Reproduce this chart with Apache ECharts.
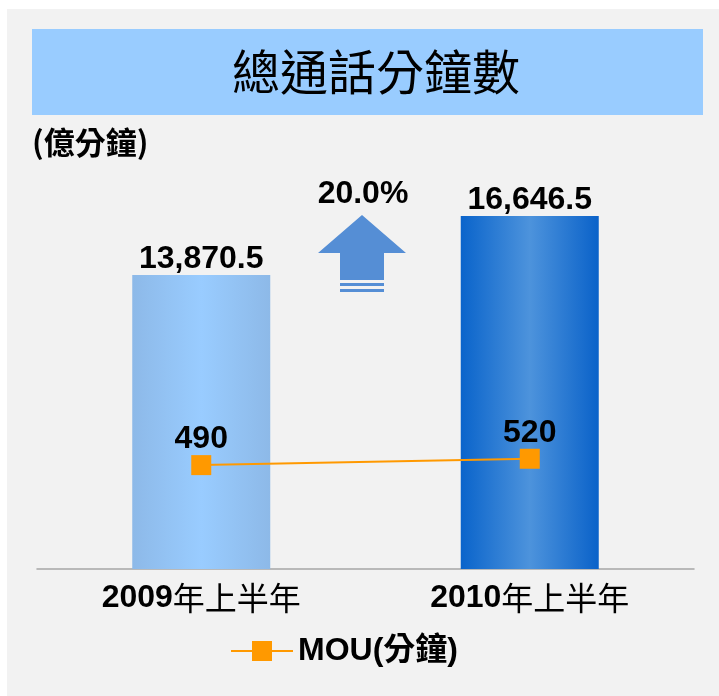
<!DOCTYPE html>
<html>
<head>
<meta charset="utf-8">
<script src="https://cdn.jsdelivr.net/npm/echarts@6/dist/echarts.min.js"></script>
<style>
  html, body { margin: 0; padding: 0; background: #ffffff; }
  #chart { width: 719px; height: 696px; }
</style>
</head>
<body>
<div id="chart"></div>
<script>
const categories = ['2009年上半年', '2010年上半年'];
const minutes = [13870.5, 16646.5];
const mou = [490, 520];
const growthLabel = '20.0%';

const chart = echarts.init(document.getElementById('chart'));

const latin = 'Liberation Sans, Arial, "Noto Sans CJK TC", sans-serif';

chart.setOption({
  backgroundColor: '#ffffff',
  animation: false,
  graphic: [
    // gray panel + title band
    { type: 'rect', z: -10, shape: { x: 7, y: 9, width: 712, height: 687 }, style: { fill: '#f2f2f2' } },
    { type: 'rect', z: -9, shape: { x: 32, y: 29, width: 671, height: 86 }, style: { fill: '#99ccff' } },
    {
      type: 'text', z: 5, x: 376, y: 72,
      style: { text: '總通話分鐘數', fill: '#000', font: '48px "Noto Sans CJK TC", serif', align: 'center', verticalAlign: 'middle' }
    },
    {
      type: 'text', z: 5, x: 32, y: 142,
      style: { text: '(億分鐘)', fill: '#000', font: 'bold 31px "Noto Sans CJK TC", sans-serif', verticalAlign: 'middle' }
    },
    // growth arrow
    {
      type: 'polygon', z: 5,
      shape: { points: [[362, 215], [406, 253], [384, 253], [384, 280], [340, 280], [340, 253], [318, 253]] },
      style: { fill: '#558ed5' }
    },
    { type: 'rect', z: 5, shape: { x: 340, y: 283, width: 44, height: 3 }, style: { fill: '#558ed5' } },
    { type: 'rect', z: 5, shape: { x: 340, y: 289, width: 44, height: 3 }, style: { fill: '#558ed5' } },
    {
      type: 'text', z: 5, x: 363, y: 194,
      style: { text: growthLabel, fill: '#000', font: 'bold 32px ' + latin, align: 'center', verticalAlign: 'middle' }
    }
  ],
  legend: {
    bottom: 24,
    left: 225,
    itemWidth: 62,
    itemHeight: 25,
    itemGap: 6,
    data: ['MOU(分鐘)'],
    textStyle: { fontSize: 32, fontWeight: 'bold', color: '#000', fontFamily: latin }
  },
  grid: { left: 37, right: 25, top: 145, bottom: 127 },
  xAxis: {
    type: 'category',
    data: categories,
    axisLine: { lineStyle: { color: '#a6a6a6', width: 1.5 } },
    axisTick: { show: false },
    axisLabel: {
      margin: 13,
      formatter: v => {
        const m = v.match(/^(\d+)(.*)$/);
        return '{d|' + m[1] + '}{c|' + m[2] + '}';
      },
      rich: {
        d: { fontSize: 32, fontWeight: 'bold', color: '#000', fontFamily: latin },
        c: { fontSize: 32, fontWeight: 'normal', color: '#000', fontFamily: '"Noto Sans CJK TC", sans-serif' }
      }
    }
  },
  yAxis: [
    { type: 'value', min: 0, max: 20000, show: false, splitLine: { show: false } },
    { type: 'value', min: 0, max: 2000, show: false, splitLine: { show: false } }
  ],
  series: [
    {
      name: '通話分鐘',
      type: 'bar',
      barWidth: 138,
      data: [
        {
          value: minutes[0],
          itemStyle: {
            color: new echarts.graphic.LinearGradient(0, 0, 1, 0, [
              { offset: 0, color: '#8db9e8' },
              { offset: 0.5, color: '#99ccff' },
              { offset: 1, color: '#8db9e8' }
            ])
          }
        },
        {
          value: minutes[1],
          itemStyle: {
            color: new echarts.graphic.LinearGradient(0, 0, 1, 0, [
              { offset: 0, color: '#0a64cb' },
              { offset: 0.5, color: '#4d93dc' },
              { offset: 1, color: '#0a62c9' }
            ])
          }
        }
      ],
      label: {
        show: true,
        position: 'top',
        distance: 0,
        formatter: p => p.value.toLocaleString('en-US', { minimumFractionDigits: 1 }),
        fontSize: 32, fontWeight: 'bold', color: '#000', fontFamily: latin
      }
    },
    {
      name: 'MOU(分鐘)',
      type: 'line',
      yAxisIndex: 1,
      data: mou,
      symbol: 'rect',
      symbolSize: 20,
      itemStyle: { color: '#ff9900' },
      lineStyle: { color: '#ff9900', width: 2 },
      label: {
        show: true,
        position: 'top',
        distance: 0,
        fontSize: 32, fontWeight: 'bold', color: '#000', fontFamily: latin
      },
      z: 4
    }
  ]
});
</script>
</body>
</html>
